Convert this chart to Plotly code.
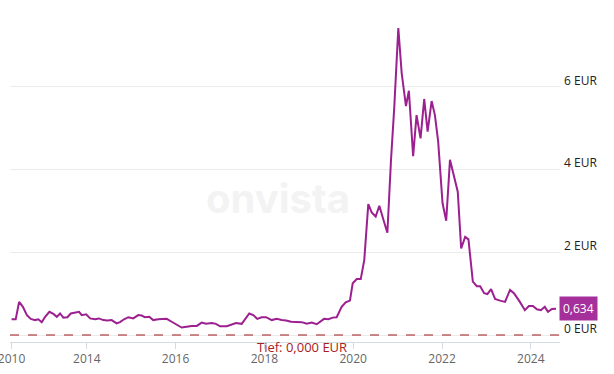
import plotly.graph_objects as go

dates = [
    "2012-04-22", "2012-05-26", "2012-06-23", "2012-07-24", "2012-08-26", "2012-09-27",
    "2012-11-01", "2012-11-28", "2012-12-26", "2013-01-23", "2013-02-27", "2013-04-01",
    "2013-04-29", "2013-05-26", "2013-06-22", "2013-07-25", "2013-08-22", "2013-09-26",
    "2013-10-29", "2013-11-20", "2013-12-26", "2014-01-28", "2014-03-10", "2014-04-11",
    "2014-05-16", "2014-06-18", "2014-07-24", "2014-09-03", "2014-10-01", "2014-11-03",
    "2014-12-08", "2015-01-18", "2015-02-28", "2015-03-28", "2015-04-24", "2015-05-29",
    "2015-07-01", "2015-08-11", "2015-09-22", "2015-10-20", "2015-11-30", "2015-12-27",
    "2016-02-20", "2016-04-01", "2016-05-12", "2016-06-23", "2016-08-03", "2016-09-07",
    "2016-10-26", "2016-11-28", "2017-01-01", "2017-02-25", "2017-04-07", "2017-05-12",
    "2017-06-28", "2017-08-29", "2017-10-01", "2017-11-03", "2017-12-09", "2018-01-14",
    "2018-03-02", "2018-04-12", "2018-05-23", "2018-06-28", "2018-08-08", "2018-09-24",
    "2018-11-04", "2018-12-15", "2019-01-25", "2019-03-07", "2019-05-06", "2019-06-11",
    "2019-07-16", "2019-08-18", "2019-09-28", "2019-10-31", "2019-12-05", "2019-12-28",
    "2020-01-30", "2020-03-03", "2020-04-01", "2020-05-04", "2020-06-01", "2020-07-04",
    "2020-08-03", "2020-09-05", "2020-10-08", "2020-11-07", "2020-12-04", "2021-01-06",
    "2021-02-03", "2021-03-10", "2021-04-03", "2021-05-08", "2021-06-05", "2021-07-08",
    "2021-08-07", "2021-09-04", "2021-10-07", "2021-11-03", "2021-11-30", "2022-01-05",
    "2022-02-04", "2022-03-07", "2022-04-09", "2022-05-10", "2022-06-07", "2022-07-10",
    "2022-08-06", "2022-09-11", "2022-10-14", "2022-11-10", "2022-12-13", "2023-01-09",
    "2023-02-08", "2023-03-13", "2023-04-23", "2023-06-03", "2023-07-14", "2023-08-15",
    "2023-10-03", "2023-11-13", "2023-12-16", "2024-01-18", "2024-02-20", "2024-03-24",
    "2024-04-25", "2024-05-21", "2024-06-23", "2024-07-26",
]

prices = [
    0.38, 0.38, 0.80, 0.68, 0.48, 0.39,
    0.36, 0.38, 0.31, 0.44, 0.56, 0.51,
    0.44, 0.52, 0.42, 0.43, 0.52, 0.54,
    0.56, 0.48, 0.50, 0.40, 0.38, 0.40,
    0.36, 0.35, 0.36, 0.28, 0.31, 0.38,
    0.43, 0.40, 0.48, 0.47, 0.43, 0.44,
    0.36, 0.38, 0.39, 0.39, 0.32, 0.28,
    0.18, 0.20, 0.22, 0.22, 0.30, 0.27,
    0.29, 0.27, 0.21, 0.21, 0.26, 0.29,
    0.27, 0.52, 0.48, 0.39, 0.43, 0.43,
    0.36, 0.39, 0.36, 0.35, 0.32, 0.31,
    0.31, 0.27, 0.30, 0.26, 0.39, 0.38,
    0.42, 0.43, 0.68, 0.79, 0.83, 1.25,
    1.35, 1.35, 1.81, 3.16, 2.96, 2.86,
    3.12, 2.79, 2.47, 4.23, 5.51, 7.41,
    6.32, 5.53, 5.90, 4.32, 5.31, 4.75,
    5.70, 4.91, 5.65, 5.31, 4.67, 3.18,
    2.76, 4.23, 3.86, 3.46, 2.09, 2.37,
    2.31, 1.29, 1.18, 1.18, 1.01, 0.99,
    1.11, 0.87, 0.83, 0.80, 1.09, 1.01,
    0.80, 0.60, 0.70, 0.70, 0.62, 0.60,
    0.68, 0.56, 0.63, 0.634,
]

x_tick_vals = ["2012-04-22", "2014-01-01", "2016-01-01", "2018-01-01",
               "2020-01-01", "2022-01-01", "2024-01-01"]
x_tick_text = ["2010", "2014", "2016", "2018", "2020", "2022", "2024"]
y_tick_vals = [0, 2, 4, 6]
y_tick_text = ["0 EUR", "2 EUR", "4 EUR", "6 EUR"]
low_value = 0.0
low_text = "Tief: 0,000 EUR"
last_text = "0,634"

LINE = "#9c2090"
FONT = "Open Sans"

fig = go.Figure()
fig.add_trace(go.Scatter(
    x=dates, y=prices, mode="lines",
    line=dict(color=LINE, width=2), hoverinfo="skip", showlegend=False,
))

# low line
fig.add_shape(type="line", xref="paper", yref="y", x0=0, x1=1,
              y0=low_value, y1=low_value,
              line=dict(color="#a01818", width=1, dash="dash"))

annotations = []
for v, t in zip(y_tick_vals, y_tick_text):
    annotations.append(dict(
        xref="paper", yref="y", x=1, y=v, text=t, showarrow=False,
        xanchor="left", yanchor="bottom", xshift=2, yshift=-4,
        font=dict(family=FONT, size=12, color="#222222"),
    ))
annotations.append(dict(
    xref="paper", yref="y", x=0.531, y=low_value, text=low_text,
    showarrow=False, xanchor="center", yanchor="top", yshift=-1,
    font=dict(family=FONT, size=13, color="#a82020"),
))
annotations.append(dict(
    xref="x", yref="y", x=dates[-1], y=prices[-1], text=last_text,
    showarrow=False, xanchor="left", yanchor="middle", xshift=3,
    bgcolor="#a5309c", borderpad=3,
    font=dict(family=FONT, size=12, color="#ffffff"),
))
annotations.append(dict(
    xref="paper", yref="paper", x=0.488, y=0.42, text="<b>onvista</b>",
    showarrow=False, xanchor="center", yanchor="middle",
    font=dict(family="Inter", size=40, color="#f3f3f3"),
))

fig.update_layout(
    width=614, height=374,
    margin=dict(l=10, r=54, t=0, b=32),
    paper_bgcolor="white", plot_bgcolor="white",
    font=dict(family=FONT, size=12, color="#666666"),
    annotations=annotations,
    xaxis=dict(
        type="date", range=["2012-04-09", "2024-08-28"],
        tickmode="array", tickvals=x_tick_vals, ticktext=x_tick_text,
        showgrid=False, showline=True, linecolor="#d4dbe3", linewidth=1,
        ticks="outside", ticklen=6, tickcolor="#d4dbe3",
        tickfont=dict(family=FONT, size=12, color="#666666"),
        ticklabeloverflow="allow", automargin=False,
        zeroline=False, fixedrange=True,
    ),
    yaxis=dict(
        range=[-0.169, 8.09], tickmode="array", tickvals=y_tick_vals,
        showticklabels=False, showgrid=True, gridcolor="#ebebeb", gridwidth=1,
        zeroline=False, showline=False, fixedrange=True, automargin=False,
    ),
)

fig.write_html(
    "out.html",
    config={"displayModeBar": False},
    post_script="document.body.style.margin='0';document.body.style.padding='0';",
)
